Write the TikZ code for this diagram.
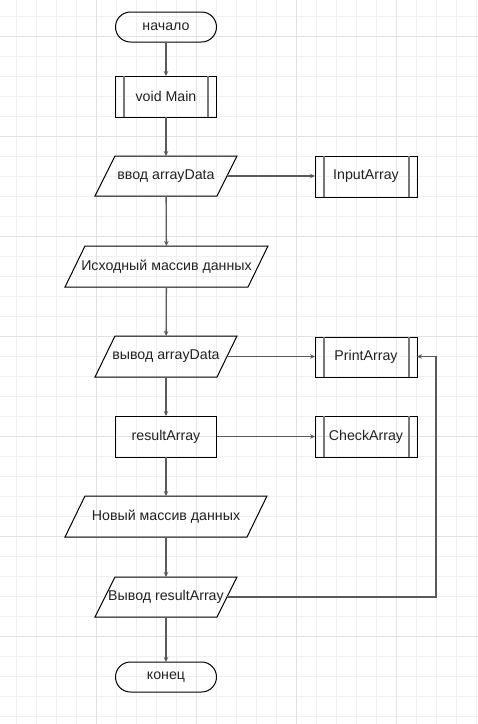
\documentclass[tikz,border=0pt]{standalone}
\usepackage{fontspec}
\setmainfont{Liberation Sans}
\usetikzlibrary{arrows.meta}
\definecolor{gridminor}{HTML}{F0F0F0}
\definecolor{gridmajor}{HTML}{E2E2E2}
\definecolor{conn}{HTML}{5A5A5A}
\definecolor{subl}{HTML}{777777}
\definecolor{txt}{HTML}{222222}
\tikzset{
  base/.style={inner sep=0pt, outer sep=0pt, text=txt, font=\fontsize{14.2}{16}\selectfont},
  term/.style={base, draw=black, line width=1pt, rounded corners=15pt, minimum width=101pt, minimum height=30pt},
  proc/.style={base, draw=black, line width=1pt, minimum width=101pt, minimum height=41pt},
  sub/.style={base, draw=black, line width=1pt, minimum width=102pt, minimum height=41pt},
  io/.style={base, minimum height=40pt},
  para/.style={draw=black, line width=1pt},
  subline/.style={draw=subl, line width=2pt},
  conn/.style={draw=conn, line width=1.3pt, -{Stealth[length=5pt,width=4.5pt]}},
}
\begin{document}
\begin{tikzpicture}[x=1pt,y=-1pt]
\useasboundingbox (0,0) rectangle (478,724);
\fill[white] (0,0) rectangle (478,724);
% grid
\foreach \i in {16,36,...,476} \draw[gridminor, line width=0.8pt] (\i,0) -- (\i,724);
\foreach \j in {16,36,...,716} \draw[gridminor, line width=0.8pt] (0,\j) -- (478,\j);
\foreach \i in {96,196,296,396} \draw[gridmajor, line width=1pt] (\i,0) -- (\i,724);
\foreach \j in {36,136,...,636} \draw[gridmajor, line width=1pt] (0,\j) -- (478,\j);

% nodes
\node[term] (start) at (166,27) {начало};
\node[proc] (main) at (166,96.5) {void Main};
\node[io, minimum width=122pt] (inp) at (166,176) {ввод arrayData};
\node[sub] (inarr) at (366,176.5) {InputArray};
\node[io, minimum width=183pt, minimum height=41pt] (src) at (166.5,266.5) {Исходный массив данных};
\node[io, minimum width=122pt, minimum height=41pt] (outd) at (166,356.5) {вывод arrayData};
\node[sub, minimum height=40pt] (prarr) at (366,357) {PrintArray};
\node[proc] (res) at (166,436.5) {resultArray};
\node[sub] (charr) at (366,436.5) {CheckArray};
\node[io, minimum width=182pt, minimum height=41pt] (newd) at (166,516.5) {Новый массив данных};
\node[io, minimum width=122pt] (outr) at (166,597) {Вывод resultArray};
\node[term] (end) at (166,677) {конец};

% parallelogram outlines
\foreach \n in {inp,src,outd,newd,outr}{
  \draw[para] ([xshift=10pt]\n.north west) -- ([xshift=10pt]\n.north east)
    -- ([xshift=-10pt]\n.south east) -- ([xshift=-10pt]\n.south west) -- cycle;
}
% subprocess inner lines
\foreach \n in {main,inarr,prarr,charr}{
  \draw[subline] ([xshift=8.5pt]\n.north west) -- ([xshift=8.5pt]\n.south west);
  \draw[subline] ([xshift=-8.5pt]\n.north east) -- ([xshift=-8.5pt]\n.south east);
}

% connectors
\draw[conn] (start) -- (main);
\draw[conn] (main) -- (inp);
\draw[conn] (inp) -- (src);
\draw[conn] (src) -- (outd);
\draw[conn] (outd) -- (res);
\draw[conn] (res) -- (newd);
\draw[conn] (newd) -- (outr);
\draw[conn] (outr) -- (end);
\draw[conn] (inp.east) -- (inarr.west |- inp.east);
\draw[conn] (outd.east) -- (prarr.west |- outd.east);
\draw[conn] (res.east) -- (charr.west |- res.east);
\coordinate (c1) at (436,597);
\coordinate (c2) at (436,356.5);
\draw[conn] (outr.east) -- (c1) -- (c2) -- (prarr.east |- c2);
\end{tikzpicture}
\end{document}
